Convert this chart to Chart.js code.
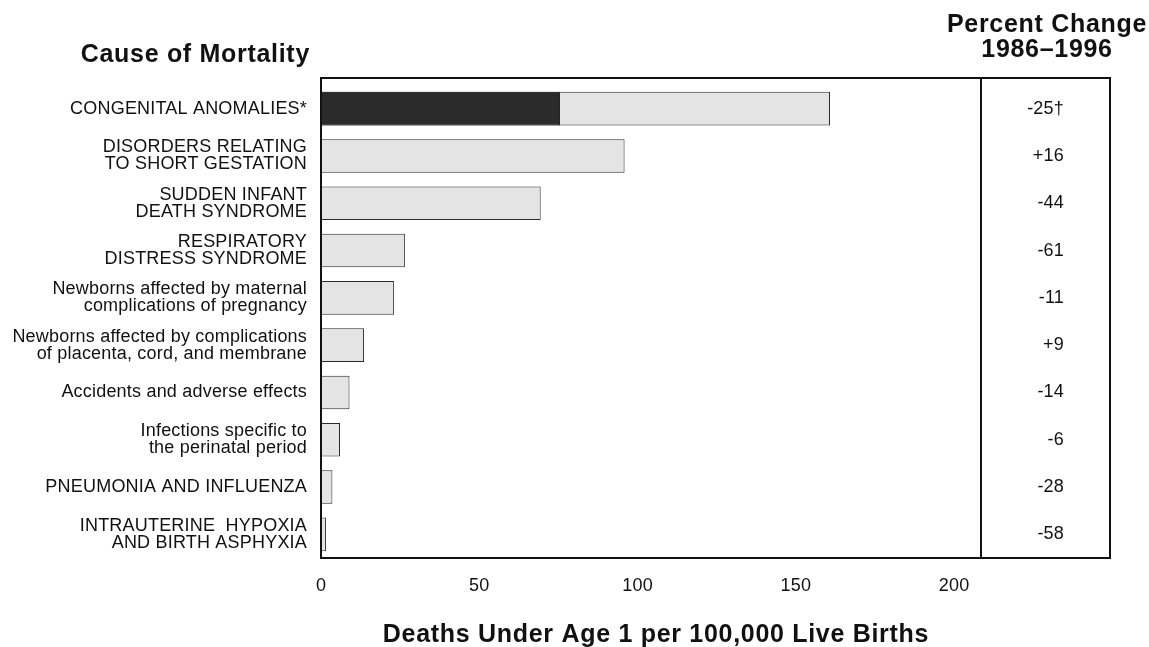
<!DOCTYPE html>
<html>
<head>
<meta charset="utf-8">
<script src="https://cdn.jsdelivr.net/npm/chart.js@4.4.0/dist/chart.umd.min.js"></script>
<style>
  body { margin: 0; background: #fff; }
  #wrap { width: 1149px; height: 647px; }
</style>
</head>
<body>
<div id="wrap"><canvas id="chart" width="1149" height="647"></canvas></div>
<script>
// Causes of mortality (multi-line labels as in the original)
const causes = [
  ['CONGENITAL ANOMALIES*'],
  ['DISORDERS RELATING', 'TO SHORT GESTATION'],
  ['SUDDEN INFANT', 'DEATH SYNDROME'],
  ['RESPIRATORY', 'DISTRESS SYNDROME'],
  ['Newborns affected by maternal', 'complications of pregnancy'],
  ['Newborns affected by complications', 'of placenta, cord, and membrane'],
  ['Accidents and adverse effects'],
  ['Infections specific to', 'the perinatal period'],
  ['PNEUMONIA AND INFLUENZA'],
  ['INTRAUTERINE  HYPOXIA', 'AND BIRTH ASPHYXIA']
];

// Deaths under age 1 per 100,000 live births (whole bar)
const deathRates = [160.8, 95.9, 69.4, 26.5, 23.1, 13.6, 9.0, 6.0, 3.6, 1.6];
// dark part of the first bar
const darkPart = [75.5, null, null, null, null, null, null, null, null, null];
// percent change 1986-1996
const pctChange = ['-25\u2020', '+16', '-44', '-61', '-11', '+9', '-14', '-6', '-28', '-58'];
const xTicks = [0, 50, 100, 150, 200];

const FAMILY = '"Liberation Sans", Arial, Helvetica, sans-serif';
const INK = '#111';

// frame, right-hand panel and titles
const moldura = {
  id: 'moldura',
  beforeDraw(chart) {
    chart.ctx.letterSpacing = '0.2px';
  },
  afterDraw(chart) {
    const { ctx, chartArea: a, scales: { y } } = chart;
    const top = a.top - 7;
    const panelRight = a.right + 129;
    ctx.save();
    ctx.strokeStyle = '#111';
    ctx.lineWidth = 2;
    ctx.strokeRect(a.left, top, panelRight - a.left, a.bottom - top);
    ctx.beginPath();
    ctx.moveTo(a.right, top);
    ctx.lineTo(a.right, a.bottom);
    ctx.stroke();

    // percent change column
    ctx.fillStyle = INK;
    ctx.font = '18px ' + FAMILY;
    ctx.letterSpacing = '0.2px';
    ctx.textAlign = 'right';
    ctx.textBaseline = 'middle';
    pctChange.forEach((txt, i) => {
      ctx.fillText(txt, a.right + 83, y.getPixelForTick(i));
    });

    // titles
    ctx.font = 'bold 25px ' + FAMILY;
    ctx.letterSpacing = '0.7px';
    ctx.textBaseline = 'alphabetic';
    ctx.textAlign = 'right';
    ctx.fillText('Cause of Mortality', a.left - 11, 62);
    ctx.textAlign = 'center';
    ctx.fillText('Percent Change', a.right + 66, 32);
    ctx.fillText('1986\u20131996', a.right + 66, 57);
    ctx.fillText('Deaths Under Age 1 per 100,000 Live Births', 656, 642);
    ctx.restore();
  }
};

new Chart(document.getElementById('chart').getContext('2d'), {
  type: 'bar',
  data: {
    labels: causes,
    datasets: [
      {
        label: 'dark',
        data: darkPart,
        backgroundColor: '#2b2b2b',
        borderColor: '#222',
        borderWidth: 1,
        grouped: false,
        order: 0
      },
      {
        label: 'total',
        data: deathRates,
        backgroundColor: '#e4e4e4',
        borderColor: '#2a2a2a',
        borderWidth: 1,
        grouped: false,
        order: 1
      }
    ]
  },
  options: {
    indexAxis: 'y',
    responsive: false,
    animation: false,
    devicePixelRatio: 1,
    barPercentage: 0.71,
    categoryPercentage: 1,
    layout: { padding: { top: 85, right: 168, left: 0, bottom: 0 } },
    plugins: {
      legend: { display: false },
      tooltip: { enabled: false }
    },
    scales: {
      x: {
        min: 0,
        max: 208.5,
        afterBuildTicks: s => { s.ticks = xTicks.map(v => ({ value: v })); },
        afterFit: s => { s.height = 89; },
        grid: { display: false, drawTicks: false },
        border: { display: false },
        ticks: {
          padding: 17,
          color: INK,
          font: { family: FAMILY, size: 18 }
        }
      },
      y: {
        afterFit: s => { s.width = 321; },
        grid: { display: false, drawTicks: false },
        border: { display: false },
        ticks: {
          padding: 14,
          color: INK,
          autoSkip: false,
          font: { family: FAMILY, size: 18, lineHeight: 0.95 }
        }
      }
    }
  },
  plugins: [moldura]
});
</script>
</body>
</html>
